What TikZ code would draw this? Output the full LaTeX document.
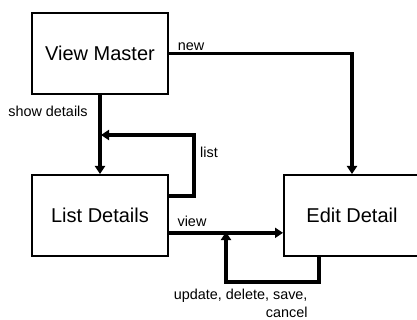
\documentclass[tikz,border=0pt]{standalone}
\usepackage{fontspec}
\setmainfont{Liberation Sans}
\usetikzlibrary{arrows.meta}

\tikzset{every picture/.style={line width=0.75pt}}
\tikzset{
  screen/.style={draw, line width=1.5pt, minimum width=102pt, minimum height=60.75pt, inner sep=0pt, font=\fontsize{15}{18}\selectfont},
  flow/.style={line width=2.6pt, -{Triangle[length=6pt,width=7.5pt]}},
  loop/.style={line width=2.4pt, -{Triangle[length=6pt,width=7.5pt]}},
  tag/.style={inner sep=0pt, font=\fontsize{10.8}{13}\selectfont}
}

\begin{document}
\begin{tikzpicture}[x=0.75pt,y=0.75pt,yscale=-1,xscale=1]
	\useasboundingbox (0,0) rectangle (417,320);
	
	%Shape: Rectangle
	\node [screen] (master) at (100,53.5) {View Master};
	%Shape: Rectangle
	\node [screen] (list) at (100,215.5) {List Details};
	%Shape: Rectangle
	\node [screen] (edit) at (352,215.5) {Edit Detail};
	
	%Bends
	\coordinate (listbend) at (194,135);
	\coordinate (listin) at (101,135);
	\coordinate (updbend) at (226,282);
	\coordinate (updin) at (226,232);
	
	%Straight Lines
	\draw [flow] (master.east) -| (edit.north);
	%Straight Lines
	\draw [flow] (master.south) -- (list.north);
	%Straight Lines (yshift is flipped by yscale=-1)
	\draw [loop] ([yshift=16.5pt]list.north east) -| (listbend) -- (listin);
	%Straight Lines
	\draw [flow] ([yshift=13pt]list.east) -- ([yshift=13pt]edit.west);
	%Straight Lines
	\draw [loop] ([xshift=-24.75pt]edit.south) |- (updbend) -- (updin);
	
	% Text
	\node [tag] (newtxt) at (191,47) {new};
	\node [tag] (showtxt) at (48,111) {show details};
	\node [tag] (listtxt) at (209,152) {list};
	\node [tag] (viewtxt) at (192,221) {view};
	\node [tag, align=right, anchor=north east] (updtxt) at (308,289) {update, delete, save,\\cancel};
	
\end{tikzpicture}
\end{document}
